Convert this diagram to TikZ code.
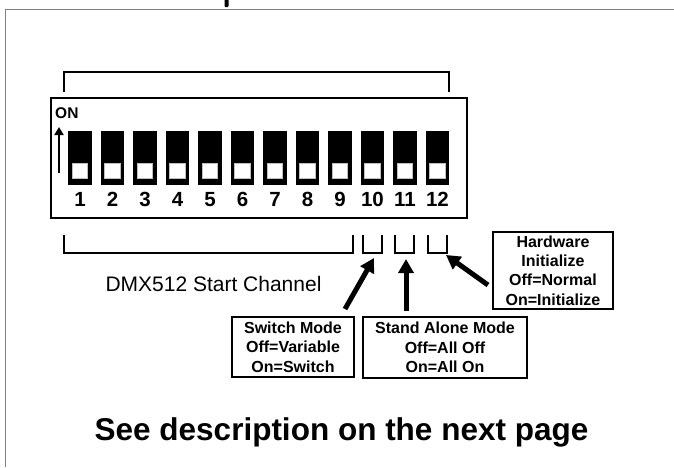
\documentclass[tikz,border=0pt]{standalone}
\usepackage{fontspec}
\setmainfont{Liberation Sans}
\usetikzlibrary{arrows.meta}
\begin{document}
\begin{tikzpicture}[x=1pt,y=-1pt,
  frameline/.style={draw=black!50, line width=1.8pt},
  outline/.style={draw=black, line width=2pt},
  bracket/.style={draw=black, line width=1.8pt},
  switchbody/.style={fill=black, draw=none, minimum width=23.3pt, minimum height=54pt, inner sep=0pt},
  knob/.style={fill=white, draw=black!25, line width=0.6pt, minimum width=15.5pt, minimum height=14.5pt, inner sep=0pt},
  num/.style={font=\fontsize{20.5}{20.5}\selectfont\bfseries, inner sep=0pt, anchor=base},
  infobox/.style={draw=black, line width=1.4pt, inner sep=0pt, align=center,
    font=\fontsize{16}{19.3}\selectfont\bfseries},
  bigarrow/.style={line width=5pt, -{Triangle[length=14pt,width=15pt]}},
  onarrow/.style={line width=2.6pt, -{Triangle[length=8pt,width=9pt]}}
]
\useasboundingbox (0,0) rectangle (674,467);
% outer frame
\draw[frameline] (5.5,467) -- (5.5,9.5) -- (674,9.5);
\fill[rounded corners=1pt] (224.5,-3) rectangle (228.5,7);
% switch housing
\node[outline, minimum width=416pt, minimum height=120pt, inner sep=0pt] (housing) at (259,158) {};
\node[font=\fontsize{15.5}{15.5}\selectfont\bfseries, inner sep=0pt, anchor=base west] (on) at (55,118.5) {ON};
\coordinate (onTail) at (59,173);
\coordinate (onTip) at (59,127);
\draw[onarrow] (onTail) -- (onTip);
% switches
\foreach \i in {1,...,12} {
  \pgfmathsetmacro{\xx}{79.95+32.5*(\i-1)}
  \node[switchbody] (s\i) at (\xx,158) {};
  \node[knob] (k\i) at (\xx,170.8) {};
  \node[num] (n\i) at (\xx,206.7) {\i};
}
% top bracket
\draw[bracket] (64,92) -- (64,72) -- (449,72) -- (449,92);
% bottom brackets
\draw[bracket] (64,235) -- (64,253) -- (353,253) -- (353,235);
\draw[bracket] (363,235) -- (363,253) -- (382,253) -- (382,235);
\draw[bracket] (395,235) -- (395,253) -- (414,253) -- (414,235);
\draw[bracket] (428,235) -- (428,253) -- (447,253) -- (447,235);
\node[font=\fontsize{21}{21}\selectfont, inner sep=0pt, anchor=base] (dmx) at (213.5,291) {DMX512 Start Channel};
% info boxes
\node[infobox, minimum width=120pt, minimum height=77pt] (hw) at (553,270.5)
  {Hardware\\Initialize\\Off=Normal\\On=Initialize};
\node[infobox, minimum width=122pt, minimum height=60pt] (sm) at (293,347)
  {Switch Mode\\Off=Variable\\On=Switch};
\node[infobox, minimum width=164pt, minimum height=61pt] (sa) at (445,347.5)
  {Stand Alone Mode\\Off=All Off\\On=All On};
% arrows
\coordinate (smTail) at (345,309);
\coordinate (smTip) at (374,258);
\coordinate (saTail) at (406,311);
\coordinate (saTip) at (406,259);
\coordinate (hwTail) at (488,285);
\coordinate (hwTip) at (446,255);
\draw[bigarrow] (smTail) -- (smTip);
\draw[bigarrow] (saTail) -- (saTip);
\draw[bigarrow] (hwTail) -- (hwTip);
% footer text
\node[font=\fontsize{31.5}{31.5}\selectfont\bfseries, inner sep=0pt, anchor=base] (foot) at (341.5,440)
  {See description on the next page};
\end{tikzpicture}
\end{document}
